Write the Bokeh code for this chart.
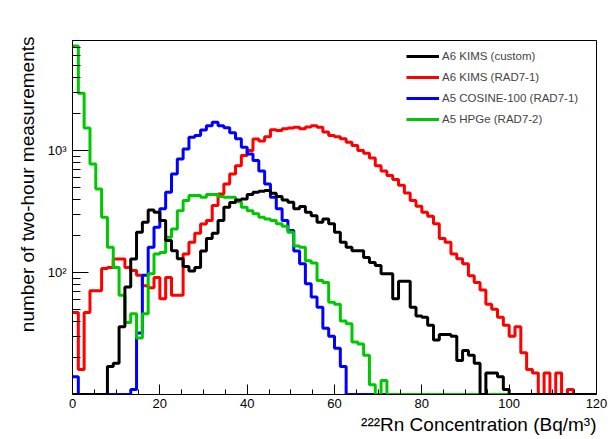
import numpy as np
from bokeh.plotting import figure
from bokeh.models import FixedTicker, Legend, LegendItem, ColumnDataSource, Title
from bokeh.embed import file_html
from bokeh.resources import INLINE

# ---- data: 90 bins of 4/3 Bq/m3 between 0 and 120 ----
x_lo, x_hi, n_bins = 0.0, 120.0, 90
y_lo, y_hi = 10.0, 8000.0

black_counts = [0, 0, 0, 0, 0, 0, 17, 18, 36, 76,
                129, 214, 259, 326, 312, 267, 183, 151, 130, 112,
                103, 110, 150, 190, 210, 267, 343, 375, 394, 402,
                436, 455, 464, 470, 447, 420, 394, 377, 333, 348,
                312, 293, 259, 275, 251, 214, 177, 161, 151, 151,
                133, 121, 114, 98, 98, 61, 85, 85, 52, 44,
                43, 37, 28, 31, 31, 30, 19, 23, 21, 18,
                0, 15, 15, 14, 11, 0, 0, 0, 0, 0,
                0, 0, 0, 0, 0, 0, 0, 0, 0, 0]

red_counts = [47, 16, 47, 71, 71, 108, 110, 129, 129, 110,
              104, 95, 78, 75, 91, 61, 91, 65, 65, 142,
              177, 210, 250, 267, 354, 441, 533, 644, 753, 910,
              1000, 1247, 1200, 1300, 1480, 1460, 1508, 1530, 1556, 1508,
              1560, 1603, 1556, 1420, 1330, 1300, 1250, 1170, 1099, 1000,
              950, 871, 753, 680, 624, 580, 520, 450, 390, 350,
              312, 290, 251, 190, 177, 142, 130, 118, 94, 83,
              72, 55, 50, 43, 37, 30, 36, 22, 16, 15,
              0, 15, 0, 15, 0, 11, 0, 0, 0, 0]

blue_counts = [14, 0, 0, 0, 0, 0, 0, 0, 0, 0,
               11, 32, 95, 161, 235, 333, 455, 644, 855, 1033,
               1285, 1330, 1478, 1603, 1706, 1600, 1540, 1400, 1250, 1064,
               939, 828, 680, 533, 414, 333, 267, 221, 150, 118,
               81, 63, 52, 35, 30, 24, 17, 0, 0, 0,
               0, 0, 0, 0, 0, 0, 0, 0, 0, 0,
               0, 0, 0, 0, 0, 0, 0, 0, 0, 0,
               0, 0, 0, 0, 0, 0, 0, 0, 0, 0,
               0, 0, 0, 0, 0, 0, 0, 0, 0, 0]

green_counts = [7200, 2950, 1535, 778, 485, 284, 161, 110, 65, 39,
                46, 29, 46, 98, 142, 146, 195, 228, 322, 389,
                428, 428, 414, 436, 436, 420, 414, 414, 380, 343,
                322, 303, 284, 275, 267, 251, 240, 214, 165, 161,
                125, 120, 86, 83, 57, 55, 40, 38, 27, 26,
                21, 12, 0, 13, 0, 0, 0, 0, 0, 0,
                0, 0, 0, 0, 0, 0, 0, 0, 0, 0,
                0, 0, 0, 0, 0, 0, 0, 0, 0, 0,
                0, 0, 0, 0, 0, 0, 0, 0, 0, 0]

series_labels = ["A6 KIMS (custom)", "A6 KIMS (RAD7-1)",
                 "A5 COSINE-100 (RAD7-1)", "A5 HPGe (RAD7-2)"]
series_colors = ["#000000", "#ff0000", "#0000ff", "#00c800"]

x_major = [0, 20, 40, 60, 80, 100, 120]
x_minor = [v for v in range(0, 121, 5) if v % 20 != 0]
y_major = [100, 1000]
y_minor = [d * m for d in (10, 100, 1000) for m in range(2, 10)]
y_major_text = {100: "10\u00b2", 1000: "10\u00b3"}

x_title = "\u00b2\u00b2\u00b2Rn Concentration (Bq/m\u00b3)"
y_title = "number of two-hour measurements"

FONT = "Liberation Sans"

edges = np.linspace(x_lo, x_hi, n_bins + 1)

p = figure(width=609, height=439, output_backend="svg", toolbar_location=None,
           x_range=(x_lo, x_hi), y_range=(y_lo, y_hi), y_axis_type="log",
           min_border_left=72, min_border_right=13, min_border_top=40,
           min_border_bottom=45)
p.background_fill_color = "white"
p.border_fill_color = "white"
p.outline_line_color = "black"
p.outline_line_width = 1
p.grid.visible = False

renderers = {}
order = [1, 2, 3, 0]  # red, blue, green drawn first, black on top
all_counts = [black_counts, red_counts, blue_counts, green_counts]
for k in order:
    c = np.asarray(all_counts[k], dtype=float)
    shown = np.maximum(c, y_lo)
    ys = np.append(shown, shown[-1])
    src = ColumnDataSource(dict(x=edges, y=ys))
    r = p.step("x", "y", source=src, mode="after", line_color=series_colors[k],
               line_width=3)
    renderers[k] = r

# axes
xa = p.xaxis[0]
xa.ticker = FixedTicker(ticks=x_major, minor_ticks=x_minor)
xa.major_tick_in = 10
xa.major_tick_out = 0
xa.minor_tick_in = 5
xa.minor_tick_out = 0
xa.major_label_standoff = 4
xa.major_label_text_font = FONT
xa.major_label_text_font_size = "13px"
xa.major_label_text_color = "black"
xa.axis_line_color = "black"

ya = p.yaxis[0]
ya.ticker = FixedTicker(ticks=y_major, minor_ticks=y_minor)
ya.major_label_overrides = y_major_text
ya.major_tick_in = 16
ya.major_tick_out = 0
ya.minor_tick_in = 8
ya.minor_tick_out = 0
ya.major_label_standoff = 6
ya.major_label_text_font = FONT
ya.major_label_text_font_size = "13px"
ya.major_label_text_color = "black"
ya.axis_line_color = "black"

# legend
items = [LegendItem(label=series_labels[k], renderers=[renderers[k]]) for k in range(4)]
legend = Legend(items=items, location=(334, 265), glyph_width=33, glyph_height=20,
                label_height=20, spacing=1, padding=0, margin=0, label_standoff=3,
                label_text_font=FONT, label_text_font_size="11.5px",
                border_line_alpha=0, background_fill_alpha=0)
p.add_layout(legend)

# axis titles
p.add_layout(Title(text=x_title, align="right", standoff=2,
                   text_font=FONT, text_font_size="19px", text_font_style="normal",
                   text_color="black"), "below")
p.add_layout(Title(text=y_title, align="right", standoff=14, offset=-4,
                   text_font=FONT, text_font_size="19px", text_font_style="normal",
                   text_color="black"), "left")

open("out.html", "w").write(file_html(p, INLINE))
